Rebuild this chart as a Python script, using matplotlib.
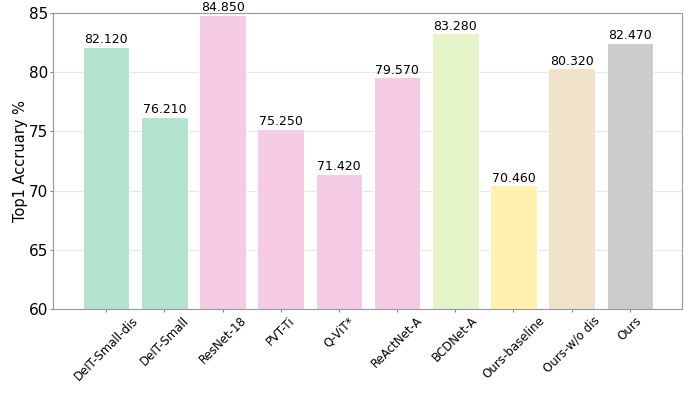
import matplotlib

matplotlib.use("Agg")
import matplotlib.pyplot as plt

models = ["DeIT-Small-dis", "DeIT-Small", "ResNet-18", "PVT-Ti", "Q-ViT*",
          "ReActNet-A", "BCDNet-A", "Ours-baseline", "Ours-w/o dis", "Ours"]
top1 = [82.12, 76.21, 84.85, 75.25, 71.42, 79.57, 83.28, 70.46, 80.32, 82.47]
colors = ["#b3e2cd", "#b3e2cd", "#f4cae4", "#f4cae4", "#f4cae4",
          "#f4cae4", "#e6f5c9", "#fff2ae", "#f1e2cc", "#cccccc"]

fig, ax = plt.subplots(figsize=(6.92, 3.93), dpi=100)
fig.subplots_adjust(left=0.077, right=0.985, top=0.967, bottom=0.213)

x = range(len(models))
bars = ax.bar(x, top1, width=0.8, color=colors, edgecolor="white", linewidth=0.8, zorder=2)
ax.bar_label(bars, fmt="%.3f", fontsize=9, padding=0.5)

ax.set_ylim(60, 85)
ax.set_xlim(-0.91, 9.89)
ax.set_yticks([60, 65, 70, 75, 80, 85])
ax.tick_params(axis="y", labelsize=11, length=2.5, pad=1)
ax.tick_params(axis="x", length=2.5, pad=1)
ax.set_xticks(list(x))
ax.set_xticklabels(models, rotation=45, fontsize=8.5)
ax.set_ylabel("Top1 Accruary %", fontsize=10.5, labelpad=1)
ax.yaxis.grid(True, color="#e6e6e6", linewidth=0.8, zorder=0)
ax.set_axisbelow(True)
for s in ax.spines.values():
    s.set_color("#999999")
ax.tick_params(colors="#888888", labelcolor="black")

fig.savefig("out.png", dpi=100)
